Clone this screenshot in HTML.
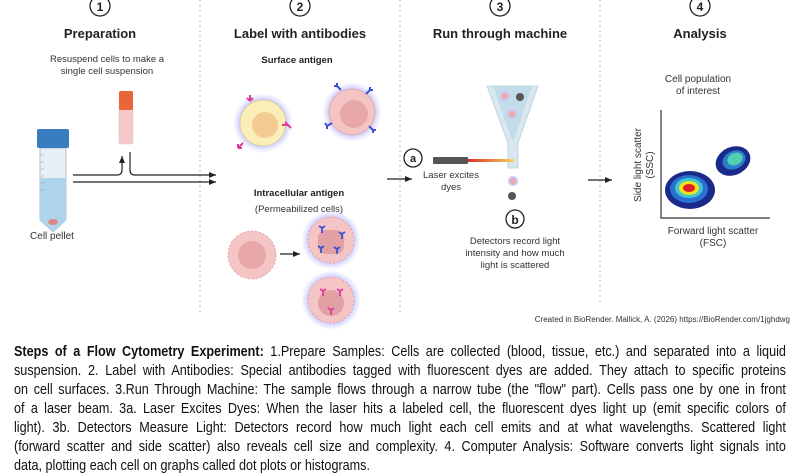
<!DOCTYPE html>
<html><head><meta charset="utf-8"><style>
html,body{margin:0;padding:0;background:#fff;}
body{width:800px;height:440px;overflow:hidden;position:relative;font-family:"Liberation Sans",sans-serif;}
svg{position:absolute;left:0;top:0;}
.para{position:absolute;left:14px;top:342px;width:930px;transform:scaleX(0.83);transform-origin:0 0;font-size:15.2px;line-height:19px;color:#111;}
.para div{text-align:justify;text-align-last:justify;white-space:nowrap;overflow:visible;}
.para div.l{text-align-last:left;}
</style></head><body>
<svg width="800" height="440" viewBox="0 0 800 440" font-family="Liberation Sans, sans-serif">
<defs>
<radialGradient id="glow" cx="50%" cy="50%" r="50%"><stop offset="70%" stop-color="#8c8cff" stop-opacity="0.6"/><stop offset="100%" stop-color="#b0b0ff" stop-opacity="0"/></radialGradient>
<linearGradient id="beam" x1="0" x2="1"><stop offset="0" stop-color="#e0302a"/><stop offset="1" stop-color="#f5d060"/></linearGradient>
<marker id="ah" markerWidth="8" markerHeight="8" refX="7" refY="4" orient="auto" markerUnits="userSpaceOnUse"><path d="M0,1 L7,4 L0,7 z" fill="#222"/></marker>
</defs>
<g stroke="#bbb" stroke-dasharray="2,3" stroke-width="1">
<line x1="200" y1="0" x2="200" y2="315"/><line x1="400" y1="0" x2="400" y2="315"/><line x1="600" y1="0" x2="600" y2="305"/>
</g>
<g fill="#fff" stroke="#222" stroke-width="1.3">
<circle cx="100" cy="6" r="10"/><circle cx="300" cy="6" r="10"/><circle cx="500" cy="6" r="10"/><circle cx="700" cy="6" r="10"/>
<circle cx="413" cy="158" r="9"/><circle cx="515" cy="219" r="9"/>
</g>
<g font-weight="bold" text-anchor="middle" fill="#222">
<text x="100" y="11" font-size="12">1</text><text x="300" y="11" font-size="12">2</text><text x="500" y="11" font-size="12">3</text><text x="700" y="11" font-size="12">4</text>
<text x="413" y="162" font-size="11">a</text><text x="515" y="224" font-size="12">b</text>
<text x="100" y="38" font-size="13">Preparation</text>
<text x="300" y="38" font-size="13">Label with antibodies</text>
<text x="500" y="38" font-size="13">Run through machine</text>
<text x="700" y="38" font-size="13">Analysis</text>
<text x="297" y="63" font-size="9.5">Surface antigen</text>
<text x="299" y="196" font-size="9.5">Intracellular antigen</text>
</g>
<g text-anchor="middle" fill="#333" font-size="9.5">
<text x="107" y="62">Resuspend cells to make a</text>
<text x="107" y="74">single cell suspension</text>
<text x="52" y="239" font-size="10">Cell pellet</text>
<text x="299" y="212">(Permeabilized cells)</text>
<text x="451" y="178">Laser excites</text><text x="451" y="190">dyes</text>
<text x="515" y="244">Detectors record light</text>
<text x="515" y="256">intensity and how much</text>
<text x="515" y="268">light is scattered</text>
<text x="698" y="82" font-size="10">Cell population</text>
<text x="698" y="94" font-size="10">of interest</text>
<text x="713" y="234" font-size="10">Forward light scatter</text>
<text x="713" y="246" font-size="10">(FSC)</text>
<text transform="translate(641,165) rotate(-90)" font-size="10">Side light scatter</text>
<text transform="translate(653,165) rotate(-90)" font-size="10">(SSC)</text>
</g>
<text x="790" y="322" text-anchor="end" font-size="8" fill="#333">Created in BioRender. Mallick, A. (2026) https://BioRender.com/1jghdwg</text>
<!-- big tube -->
<path d="M40,148 L66,148 L66,220 L53,232 L40,220 Z" fill="#e8f0f5" stroke="#aab" stroke-width="0.8"/>
<path d="M40,178 L66,178 L66,220 L53,232 L40,220 Z" fill="#aed4ec"/>
<ellipse cx="53" cy="222" rx="5" ry="3" fill="#d88"/>
<rect x="37" y="129" width="32" height="19" rx="2" fill="#3a7cc0"/>
<g stroke="#999" stroke-width="0.6"><line x1="41" y1="155" x2="44" y2="155"/><line x1="41" y1="162" x2="44" y2="162"/><line x1="41" y1="169" x2="44" y2="169"/><line x1="41" y1="176" x2="44" y2="176"/><line x1="41" y1="183" x2="44" y2="183"/><line x1="41" y1="190" x2="44" y2="190"/></g>
<!-- small tube -->
<rect x="119" y="108" width="14" height="36" rx="2" fill="#f4c8c8" stroke="#ccc" stroke-width="0.6"/>
<rect x="119" y="91" width="14" height="19" rx="1.5" fill="#e8663a"/>
<!-- arrows -->
<g fill="none" stroke="#222" stroke-width="1.2">
<path d="M73,175 L117,175 Q122,175 122,170 L122,156" marker-end="url(#ah)"/>
<path d="M130,152 L130,170 Q130,175 135,175 L216,175" marker-end="url(#ah)"/>
<path d="M73,182 L216,182" marker-end="url(#ah)"/>
<path d="M280,254 L300,254" marker-end="url(#ah)"/>
<path d="M387,179 L412,179" marker-end="url(#ah)"/>
<path d="M588,180 L612,180" marker-end="url(#ah)"/>
</g>
<!-- surface cells -->
<circle cx="263" cy="123" r="30" fill="url(#glow)"/>
<circle cx="263" cy="123" r="23" fill="#fbeeb8" stroke="#d8c890" stroke-width="0.8"/>
<circle cx="265" cy="125" r="13" fill="#f4cc92"/>
<circle cx="352" cy="112" r="30" fill="url(#glow)"/>
<circle cx="352" cy="112" r="23" fill="#f5c4c4" stroke="#e2a8a8" stroke-width="0.8"/>
<circle cx="354" cy="114" r="14" fill="#e8a8a8"/>
<g stroke="#e03ca0" stroke-width="2" fill="none">
<path d="M250,95 l0,6 m0,0 l-3,-3 m3,3 l3,-3"/><path d="M288,125 l-6,0 m6,0 l-3,-3 m3,3 l3,3"/><path d="M238,148 l5,-5 m-5,5 l0,-4 m0,4 l4,0"/>
</g>
<g stroke="#3a50d0" stroke-width="2" fill="none">
<path d="M337,86 l4,4 m-4,-4 l0,-3 m0,3 l-3,0"/><path d="M370,90 l-4,4 m4,-4 l3,0 m-3,0 l0,-3"/><path d="M327,126 l5,-3 m-5,3 l-2,-3 m2,3 l0,3"/><path d="M373,130 l-4,-4 m4,4 l3,0 m-3,0 l0,3"/>
</g>
<!-- intracellular -->
<circle cx="252" cy="255" r="24" fill="#f5c4c4" stroke="#d99" stroke-width="0.8" stroke-dasharray="2,2"/>
<circle cx="252" cy="255" r="14" fill="#e8a8a8"/>
<circle cx="331" cy="240" r="30" fill="url(#glow)"/>
<circle cx="331" cy="240" r="23" fill="#f5c4c4" stroke="#d99" stroke-width="0.8" stroke-dasharray="2,2"/>
<rect x="318" y="230" width="26" height="24" rx="8" fill="#e0a0a4"/>
<circle cx="331" cy="300" r="30" fill="url(#glow)"/>
<circle cx="331" cy="300" r="23" fill="#f5c4c4" stroke="#d99" stroke-width="0.8" stroke-dasharray="2,2"/>
<circle cx="331" cy="303" r="13" fill="#e0a0a4"/>
<g stroke="#3a50d0" stroke-width="1.8" fill="none">
<path d="M322,228 l0,5 m0,-5 l-3,-2 m3,2 l3,-2"/><path d="M342,234 l0,5 m0,-5 l-3,-2 m3,2 l3,-2"/><path d="M321,248 l0,5 m0,-5 l-3,-2 m3,2 l3,-2"/><path d="M337,249 l0,5 m0,-5 l-3,-2 m3,2 l3,-2"/>
</g>
<g stroke="#e03ca0" stroke-width="1.8" fill="none">
<path d="M323,291 l0,5 m0,-5 l-3,-2 m3,2 l3,-2"/><path d="M340,291 l0,5 m0,-5 l-3,-2 m3,2 l3,-2"/><path d="M331,310 l0,5 m0,-5 l-3,-2 m3,2 l3,-2"/>
</g>
<!-- nozzle -->
<path d="M487,86 L538,86 L518,143 L518,168 L508,168 L508,143 Z" fill="#d8e8f0" stroke="#b8ccd8" stroke-width="0.8"/>
<path d="M493,86 L532,86 L514,140 L512,140 Z" fill="#c4dcea"/>
<circle cx="505" cy="96" r="5" fill="#c8c8f4"/><circle cx="505" cy="96" r="3" fill="#f0a8a8"/>
<circle cx="520" cy="97" r="4" fill="#555"/>
<circle cx="512" cy="114" r="5" fill="#c8c8f4"/><circle cx="512" cy="114" r="3" fill="#f0a8a8"/>
<circle cx="513" cy="181" r="5" fill="#c8c8f4"/><circle cx="513" cy="181" r="3" fill="#f0a8a8"/>
<circle cx="512" cy="196" r="4" fill="#555"/>
<rect x="433" y="157" width="35" height="7" rx="1" fill="#555"/>
<rect x="468" y="159" width="46" height="3" fill="url(#beam)"/>
<!-- plot -->
<path d="M661,110 L661,218 L770,218" fill="none" stroke="#333" stroke-width="1.2"/>
<ellipse cx="690" cy="190" rx="25" ry="19" fill="#1a2a8a"/>
<ellipse cx="689" cy="189" rx="19" ry="14" fill="#2a70d0"/>
<ellipse cx="689" cy="188" rx="14" ry="10" fill="#40c8d0"/>
<ellipse cx="689" cy="188" rx="10" ry="7" fill="#f0e020"/>
<ellipse cx="689" cy="188" rx="6" ry="4" fill="#e02020"/>
<ellipse cx="733" cy="161" rx="18" ry="14" fill="#1a2a8a" transform="rotate(-25 733 161)"/>
<ellipse cx="734" cy="160" rx="12" ry="9" fill="#2a80c8" transform="rotate(-25 734 160)"/>
<ellipse cx="735" cy="159" rx="8" ry="6" fill="#50d0b0" transform="rotate(-25 735 159)"/>
</svg>
<div class="para">
<div><b>Steps of a Flow Cytometry Experiment:</b> 1.Prepare Samples: Cells are collected (blood, tissue, etc.) and separated into a liquid</div>
<div>suspension. 2. Label with Antibodies: Special antibodies tagged with fluorescent dyes are added. They attach to specific proteins</div>
<div>on cell surfaces. 3.Run Through Machine: The sample flows through a narrow tube (the "flow" part). Cells pass one by one in front</div>
<div>of a laser beam. 3a. Laser Excites Dyes: When the laser hits a labeled cell, the fluorescent dyes light up (emit specific colors of</div>
<div>light). 3b. Detectors Measure Light: Detectors record how much light each cell emits and at what wavelengths. Scattered light</div>
<div>(forward scatter and side scatter) also reveals cell size and complexity. 4. Computer Analysis: Software converts light signals into</div>
<div class="l">data, plotting each cell on graphs called dot plots or histograms.</div>
</div>
</body></html>
